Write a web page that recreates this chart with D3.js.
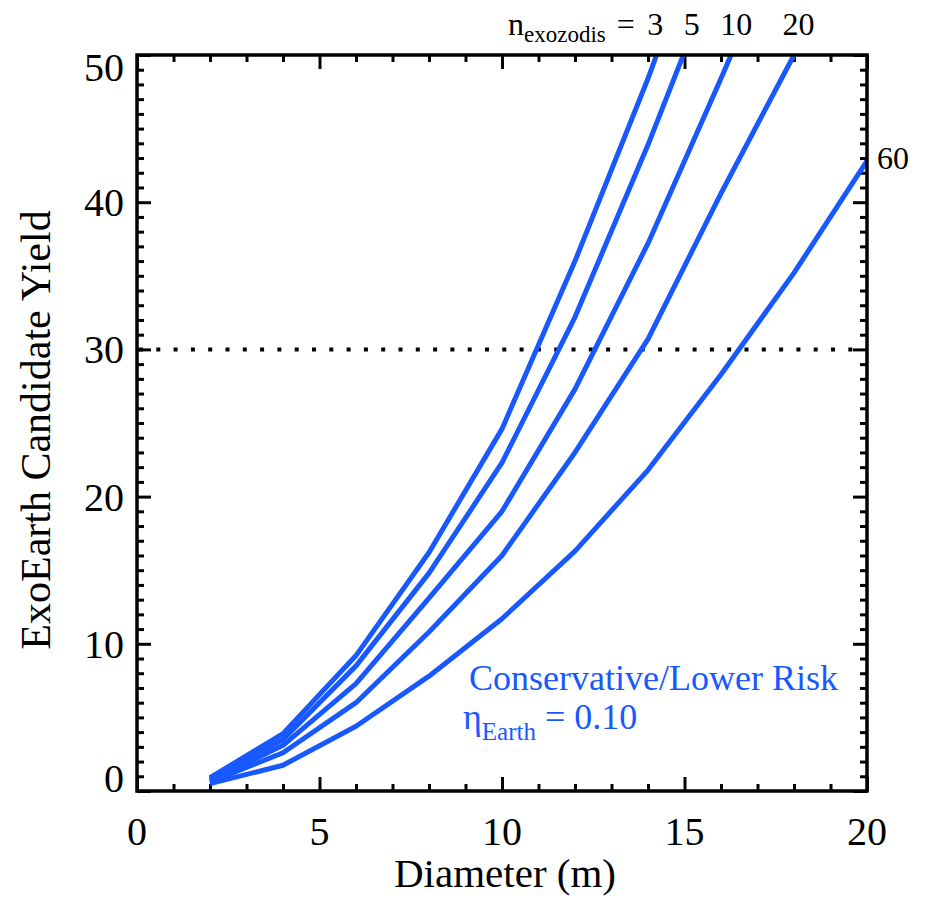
<!DOCTYPE html>
<html>
<head>
<meta charset="utf-8">
<script src="https://cdn.jsdelivr.net/npm/d3@7/dist/d3.min.js"></script>
<style>
  body { margin: 0; background: #fff; }
  text { font-family: "Liberation Serif", "Times New Roman", serif; }
</style>
</head>
<body>
<svg id="chart" width="930" height="897"></svg>
<script>
// telescope diameters (m)
var diameters = [ 2, 4, 6, 8, 10, 12, 14, 16, 18, 20 ];

// exoEarth candidate yield per exozodi level (curves run off the top of the plot)
var yield3  = [ 0.9, 3.9, 9.2, 16.2, 24.6, 36.0, 48.4, 62.0 ];
var yield5  = [ 0.8, 3.5, 8.5, 14.8, 22.3, 32.2, 43.9, 56.5 ];
var yield10 = [ 0.7, 3.1, 7.3, 13.1, 19.0, 27.3, 37.2, 48.4, 60.0 ];
var yield20 = [ 0.6, 2.6, 6.0, 10.8, 16.0, 23.0, 30.7, 40.6, 50.0, 59.5 ];
var yield60 = [ 0.5, 1.75, 4.4, 7.8, 11.7, 16.3, 21.8, 28.3, 35.2, 42.8 ];

var exozodis = [ 3, 5, 10, 20, 60 ];
var seriesList = [ yield3, yield5, yield10, yield20, yield60 ];
// where the top labels sit (diameter units)
var topLabelAt = [ 14.2, 15.2, 16.42, 18.12 ];

var xTicksMajor = [ 0, 5, 10, 15, 20 ];
var yTicksMajor = [ 0, 10, 20, 30, 40, 50 ];
var goalYield = 30;

var blue = '#1858ff';

var margin = { top: 55, right: 63, bottom: 106, left: 137 },
    width  = 930 - margin.left - margin.right,
    height = 897 - margin.top - margin.bottom;

var xScale = d3.scaleLinear().domain( [ 0, 20 ] ).range( [ 0, width ] );
var yScale = d3.scaleLinear().domain( [ 0, 50 ] ).range( [ height, 0 ] );

var svg = d3.select( '#chart' )
  .append( 'g' )
  .attr( 'transform', 'translate(' + margin.left + ',' + margin.top + ')' );

svg.append( 'clipPath' ).attr( 'id', 'plotclip' )
  .append( 'rect' ).attr( 'width', width ).attr( 'height', height );

// ticks, all pointing inward
function tickAxis( axisFn, scale, values, size, tx ) {
  var g = svg.append( 'g' )
    .attr( 'transform', tx )
    .call( axisFn( scale ).tickValues( values ).tickSizeInner( -size ).tickSizeOuter( 0 ).tickFormat( '' ) );
  g.select( '.domain' ).remove();
  g.selectAll( 'line' ).attr( 'stroke', '#000' ).attr( 'stroke-width', 3 );
  return g;
}

var xMinor = d3.range( 0, 21, 1 ).filter( function( d ) { return d % 5 !== 0; } );
var yMinor = d3.range( 0, 51, 1 ).filter( function( d ) { return d % 10 !== 0; } );

tickAxis( d3.axisBottom, xScale, xTicksMajor, 14, 'translate(0,' + height + ')' );
tickAxis( d3.axisBottom, xScale, xMinor, 7, 'translate(0,' + height + ')' );
tickAxis( d3.axisTop, xScale, xTicksMajor, 14, 'translate(0,0)' );
tickAxis( d3.axisTop, xScale, xMinor, 7, 'translate(0,0)' );
tickAxis( d3.axisLeft, yScale, yTicksMajor, 14, 'translate(0,0)' );
tickAxis( d3.axisLeft, yScale, yMinor, 7, 'translate(0,0)' );
tickAxis( d3.axisRight, yScale, yTicksMajor, 14, 'translate(' + width + ',0)' );
tickAxis( d3.axisRight, yScale, yMinor, 7, 'translate(' + width + ',0)' );

// tick labels
svg.selectAll( '.xlab' )
  .data( xTicksMajor )
  .enter()
  .append( 'text' )
  .attr( 'x', function( d ) { return xScale( d ); } )
  .attr( 'y', height + 54 )
  .attr( 'text-anchor', 'middle' )
  .attr( 'font-size', 40 )
  .text( function( d ) { return d; } );

svg.selectAll( '.ylab' )
  .data( yTicksMajor )
  .enter()
  .append( 'text' )
  .attr( 'x', -13 )
  .attr( 'y', function( d ) {
    var y = yScale( d ) + 14;
    return Math.max( 26, Math.min( height + 1, y ) );
  })
  .attr( 'text-anchor', 'end' )
  .attr( 'font-size', 40 )
  .text( function( d ) { return d; } );

// axis titles
svg.append( 'text' )
  .attr( 'x', width / 2 + 3 )
  .attr( 'y', height + 96 )
  .attr( 'text-anchor', 'middle' )
  .attr( 'font-size', 41 )
  .text( 'Diameter (m)' );

svg.append( 'text' )
  .attr( 'transform', 'translate(' + ( 50 - margin.left ) + ',' + ( 430 - margin.top ) + ') rotate(-90)' )
  .attr( 'text-anchor', 'middle' )
  .attr( 'font-size', 42 )
  .text( 'ExoEarth Candidate Yield' );

// goal line
svg.append( 'line' )
  .attr( 'x1', 2 )
  .attr( 'x2', width )
  .attr( 'y1', yScale( goalYield ) )
  .attr( 'y2', yScale( goalYield ) )
  .attr( 'stroke', '#000' )
  .attr( 'stroke-width', 4 )
  .attr( 'stroke-dasharray', '4 13.3' );

// yield curves
var line = d3.line()
  .x( function( d, i ) { return xScale( diameters[ i ] ); } )
  .y( function( d ) { return yScale( d ); } );

svg.append( 'g' )
  .attr( 'clip-path', 'url(#plotclip)' )
  .selectAll( 'path' )
  .data( seriesList )
  .enter()
  .append( 'path' )
  .attr( 'd', line )
  .attr( 'fill', 'none' )
  .attr( 'stroke', blue )
  .attr( 'stroke-width', 5 )
  .attr( 'stroke-linejoin', 'round' );

// frame
svg.append( 'rect' )
  .attr( 'width', width )
  .attr( 'height', height )
  .attr( 'fill', 'none' )
  .attr( 'stroke', '#000' )
  .attr( 'stroke-width', 3.5 );

// curve labels
var nLab = svg.append( 'text' )
  .attr( 'x', 508 - margin.left )
  .attr( 'y', 35 - margin.top )
  .attr( 'font-size', 32 );
nLab.append( 'tspan' ).text( 'n' );
nLab.append( 'tspan' ).attr( 'font-size', 23 ).attr( 'dy', 7 ).text( 'exozodis' );
nLab.append( 'tspan' ).attr( 'dy', -7 ).attr( 'dx', 3 ).text( ' =' );

svg.selectAll( '.toplab' )
  .data( exozodis.slice( 0, 4 ) )
  .enter()
  .append( 'text' )
  .attr( 'x', function( d, i ) { return xScale( topLabelAt[ i ] ); } )
  .attr( 'y', 35 - margin.top )
  .attr( 'text-anchor', 'middle' )
  .attr( 'font-size', 32 )
  .text( function( d ) { return d; } );

svg.append( 'text' )
  .attr( 'x', xScale( 20 ) + 10 )
  .attr( 'y', yScale( yield60[ yield60.length - 1 ] ) + 8 )
  .attr( 'font-size', 32 )
  .text( exozodis[ 4 ] );

// scenario note
svg.append( 'text' )
  .attr( 'x', 469 - margin.left )
  .attr( 'y', 690 - margin.top )
  .attr( 'font-size', 36 )
  .attr( 'fill', blue )
  .text( 'Conservative/Lower Risk' );

var eta = svg.append( 'text' )
  .attr( 'x', 463 - margin.left )
  .attr( 'y', 729 - margin.top )
  .attr( 'font-size', 36 )
  .attr( 'fill', blue );
eta.append( 'tspan' ).text( 'η' );
eta.append( 'tspan' ).attr( 'font-size', 25 ).attr( 'dy', 11 ).text( 'Earth' );
eta.append( 'tspan' ).attr( 'dy', -11 ).text( ' = 0.10' );
</script>
</body>
</html>
